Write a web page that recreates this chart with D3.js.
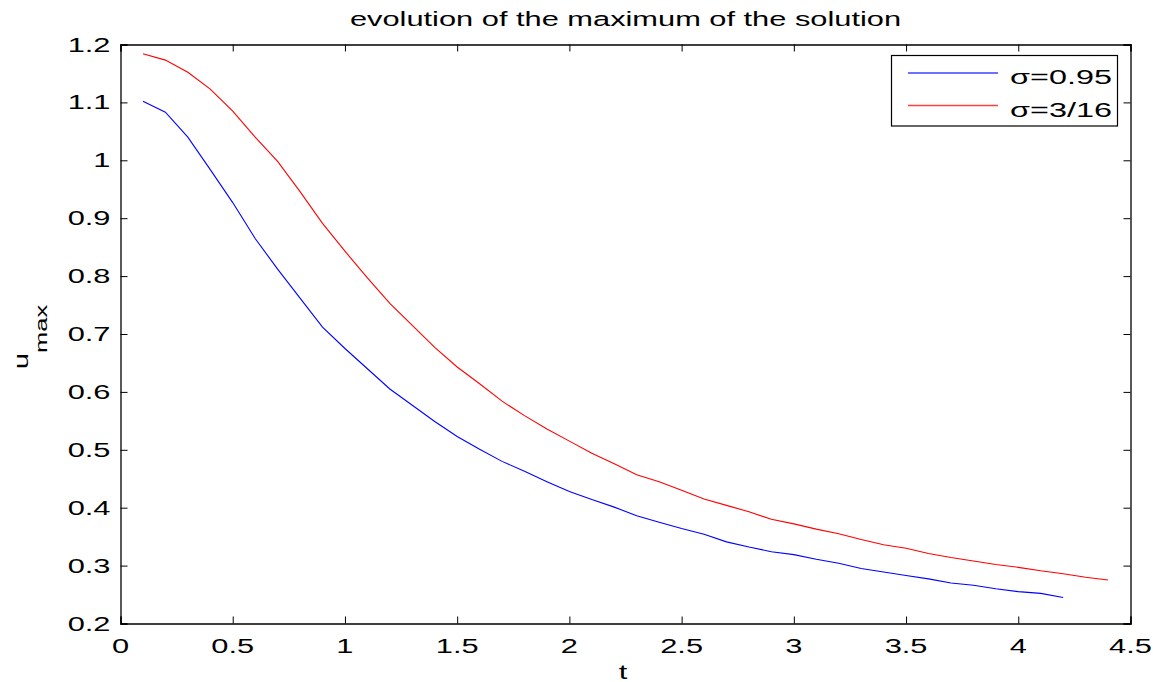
<!DOCTYPE html>
<html><head><meta charset="utf-8">
<script src="https://cdn.jsdelivr.net/npm/d3@7"></script>
<style>
html,body{margin:0;padding:0;background:#fff;}
svg{display:block;font-family:"Liberation Sans",Arial,Helvetica,sans-serif;}
</style></head>
<body>
<svg id="chart" width="1158" height="682"></svg>
<script>
const tBlue = [0.1,0.2,0.3,0.4,0.5,0.6,0.7,0.8,0.9,1.0,1.1,1.2,1.3,1.4,1.5,1.6,1.7,1.8,1.9,2.0,2.1,2.2,2.3,2.4,2.5,2.6,2.7,2.8,2.9,3.0,3.1,3.2,3.3,3.4,3.5,3.6,3.7,3.8,3.9,4.0,4.1,4.2];
const uBlue = [1.102,1.083,1.040,0.984,0.927,0.865,0.812,0.762,0.712,0.675,0.640,0.605,0.577,0.549,0.523,0.501,0.480,0.463,0.445,0.428,0.414,0.401,0.386,0.375,0.364,0.354,0.341,0.332,0.324,0.319,0.311,0.304,0.295,0.289,0.283,0.277,0.270,0.266,0.260,0.255,0.252,0.245];
const tRed = [0.1,0.2,0.3,0.4,0.5,0.6,0.7,0.8,0.9,1.0,1.1,1.2,1.3,1.4,1.5,1.6,1.7,1.8,1.9,2.0,2.1,2.2,2.3,2.4,2.5,2.6,2.7,2.8,2.9,3.0,3.1,3.2,3.3,3.4,3.5,3.6,3.7,3.8,3.9,4.0,4.1,4.2,4.3,4.4];
const uRed = [1.184,1.173,1.152,1.123,1.085,1.040,0.998,0.946,0.891,0.843,0.797,0.753,0.715,0.677,0.643,0.614,0.584,0.559,0.536,0.515,0.494,0.476,0.457,0.445,0.430,0.415,0.404,0.393,0.380,0.372,0.363,0.355,0.345,0.336,0.330,0.321,0.314,0.308,0.302,0.297,0.291,0.286,0.280,0.275];
const xTicks = [0,0.5,1,1.5,2,2.5,3,3.5,4,4.5];
const xTickLabels = ["0","0.5","1","1.5","2","2.5","3","3.5","4","4.5"];
const yTicks = [0.2,0.3,0.4,0.5,0.6,0.7,0.8,0.9,1.0,1.1,1.2];
const yTickLabels = ["0.2","0.3","0.4","0.5","0.6","0.7","0.8","0.9","1","1.1","1.2"];
const seriesNames = ["σ=0.95","σ=3/16"];
const seriesColors = ["#0000ff","#ff0000"];
const titleText = "evolution of the maximum of the solution";
const xLabel = "t";

const L = 120.5, R = 1130.5, T = 44.5, B = 623.5;
const SX = 1.58, FS = 19.5;
const svg = d3.select("#chart");
const x = d3.scaleLinear().domain([0,4.5]).range([L,R]);
const y = d3.scaleLinear().domain([0.2,1.2]).range([B,T]);

function txt(px, py, s, anchor, fs) {
  const g = svg.append("g").attr("transform", `translate(${px},${py}) scale(${SX},1)`);
  return g.append("text").attr("text-anchor", anchor).attr("font-size", fs || FS).attr("fill", "#000").text(s);
}

const tickLen = 7;
svg.append("g").attr("class","ax").attr("transform",`translate(0,${B})`)
  .call(d3.axisBottom(x).tickValues(xTicks).tickSize(-tickLen).tickFormat(""));
svg.append("g").attr("class","ax").attr("transform",`translate(0,${T})`)
  .call(d3.axisTop(x).tickValues(xTicks).tickSize(-tickLen).tickFormat(""));
svg.append("g").attr("class","ax").attr("transform",`translate(${L},0)`)
  .call(d3.axisLeft(y).tickValues(yTicks).tickSize(-tickLen).tickFormat(""));
svg.append("g").attr("class","ax").attr("transform",`translate(${R},0)`)
  .call(d3.axisRight(y).tickValues(yTicks).tickSize(-tickLen).tickFormat(""));
svg.selectAll(".ax .domain").attr("stroke","#000").attr("stroke-width",1.3);
svg.selectAll(".ax .tick line").attr("stroke","#000").attr("stroke-width",1);

xTicks.forEach((v,i)=> txt(x(v), B+29, xTickLabels[i], "middle"));
yTicks.forEach((v,i)=> txt(L-10, y(v)+7, yTickLabels[i], "end"));

const line = d3.line().x(d=>x(d[0])).y(d=>y(d[1]));
const blueData = tBlue.map((t,i)=>[t,uBlue[i]]);
const redData = tRed.map((t,i)=>[t,uRed[i]]);
svg.append("path").datum(blueData).attr("d",line).attr("fill","none").attr("stroke",seriesColors[0]).attr("stroke-width",1.1);
svg.append("path").datum(redData).attr("d",line).attr("fill","none").attr("stroke",seriesColors[1]).attr("stroke-width",1.1);

txt((L+R)/2, 26, titleText, "middle");
txt(623, 679, xLabel, "middle");
const yl = svg.append("g").attr("transform","translate(28,337) rotate(-90) scale(1.5,1)");
const ylt = yl.append("text").attr("text-anchor","middle").attr("font-size",FS).attr("fill","#000");
ylt.append("tspan").text("u");
ylt.append("tspan").attr("font-size",17).attr("dy",19).text("max");

// legend
const lg = svg.append("g");
lg.append("rect").attr("x",891.5).attr("y",55.5).attr("width",226).attr("height",70.5)
  .attr("fill","#fff").attr("stroke","#000").attr("stroke-width",1.2);
[73,105.5].forEach((ly,i)=>{
  lg.append("path").attr("d",`M908,${ly}H998`).attr("fill","none")
    .style("stroke",seriesColors[i]).style("stroke-width","1.4px").style("stroke-opacity",0.75);
  txt(1010, ly+11, seriesNames[i], "start", 20.5);
});
</script>
</body></html>
